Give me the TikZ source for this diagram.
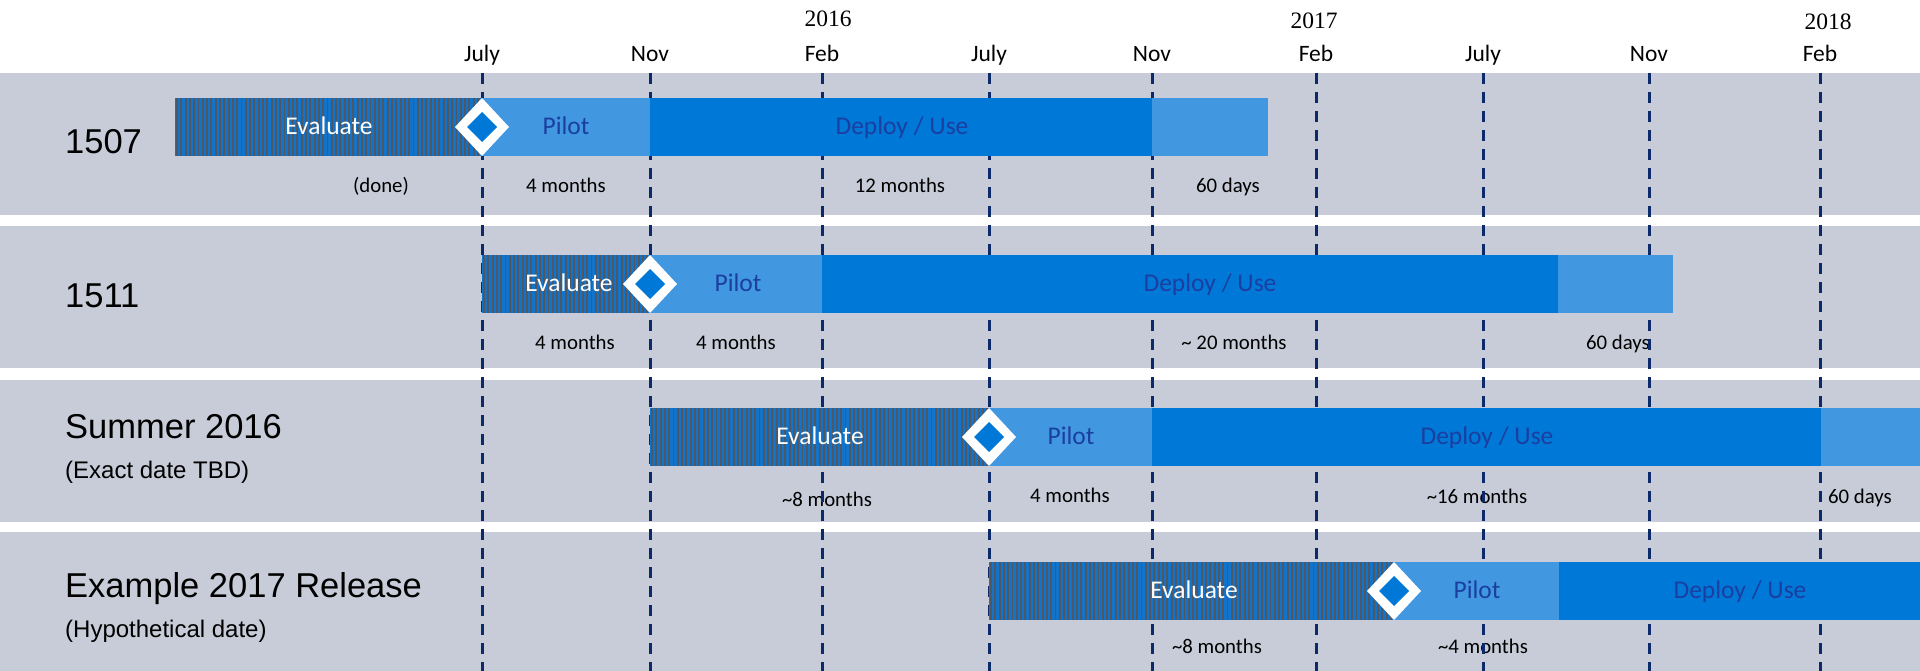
\documentclass[tikz,border=0pt]{standalone}
\usepackage{fontspec}
\setmainfont{Carlito}
\newfontfamily\arialf{Liberation Sans}
\newfontfamily\timesf{Liberation Serif}
\definecolor{band}{HTML}{C8CCD8}
\definecolor{deploy}{HTML}{0078D7}
\definecolor{pilot}{HTML}{4298E0}
\definecolor{evalblue}{HTML}{1173CA}
\definecolor{stripegray}{HTML}{4E5762}
\definecolor{dashnavy}{HTML}{0C2A6A}
\definecolor{labelblue}{HTML}{1A3FA0}
\newcommand\evalbar[4]{%
  \fill[evalblue] (#1,#3) rectangle (#2,#4);
  \begin{scope}
    \clip (#1,#3) rectangle (#2,#4);
    \pgfmathsetmacro\evfirst{#1+2}
    \pgfmathsetmacro\evnext{#1+6.3}
    \foreach \s in {\evfirst,\evnext,...,#2} \draw[stripegray, line width=1.9pt] (\s,#3) -- (\s,#4);
  \end{scope}}
\newcommand\msdiamond[2]{%
  \begin{scope}[shift={(#1,#2)}]
    \fill[white] (-27,0) -- (0,-29) -- (27,0) -- (0,29) -- cycle;
    \fill[deploy] (-15,0) -- (0,-15) -- (15,0) -- (0,15) -- cycle;
  \end{scope}}
\begin{document}
\begin{tikzpicture}[x=1pt,y=-1pt,
  every node/.style={inner sep=0pt, anchor=base},
  month/.style={font=\fontsize{23.5}{27}\selectfont},
  year/.style={font=\timesf\fontsize{23.5}{27}\selectfont},
  rowlabel/.style={font=\arialf\fontsize{34.5}{40}\selectfont, anchor=base west},
  rowsub/.style={font=\arialf\fontsize{24}{28}\selectfont, anchor=base west},
  barwhite/.style={font=\fontsize{25.5}{30}\selectfont, text=white},
  barblue/.style={font=\fontsize{25.5}{30}\selectfont, text=labelblue},
  dur/.style={font=\fontsize{20.8}{25}\selectfont},
  guide/.style={dashnavy, line width=3pt, dash pattern=on 11pt off 8pt},
]
\fill[white] (0,0) rectangle (1920,671);
\useasboundingbox (0,0) rectangle (1920,671);
% bands
\fill[band] (0,73) rectangle (1920,215);
\fill[band] (0,226) rectangle (1920,368);
\fill[band] (0,380) rectangle (1920,522);
\fill[band] (0,532) rectangle (1920,671);
% year labels
\node[year] (y16) at (828,27) {2016};
\node[year] (y17) at (1314,29) {2017};
\node[year] (y18) at (1828,30) {2018};
% month labels
\foreach \x/\m [count=\i] in {482/July,650/Nov,822/Feb,989/July,1152/Nov,1316/Feb,1483/July,1649/Nov,1820/Feb}
  \node[month] (mo\i) at (\x,62) {\m};
% row labels
\node[rowlabel] (r1) at (65,154) {1507};
\node[rowlabel] (r2) at (65,307) {1511};
\node[rowlabel] (r3) at (65,438) {Summer 2016};
\node[rowsub] (r3s) at (65,478) {(Exact date TBD)};
\node[rowlabel] (r4) at (65,597) {Example 2017 Release};
\node[rowsub] (r4s) at (65,637) {(Hypothetical date)};
% durations
\node[dur] (d11) at (381,193) {(done)};
\node[dur] (d12) at (566,193) {4 months};
\node[dur] (d13) at (900,193) {12 months};
\node[dur] (d14) at (1228,193) {60 days};
\node[dur] (d21) at (575,349) {4 months};
\node[dur] (d22) at (736,349) {4 months};
\node[dur] (d23) at (1234,349) {\textasciitilde{} 20 months};
\node[dur] (d24) at (1618,349) {60 days};
\node[dur] (d31) at (827,506) {\textasciitilde8 months};
\node[dur] (d32) at (1070,502) {4 months};
\node[dur] (d33) at (1477,503) {\textasciitilde16 months};
\node[dur] (d34) at (1860,503) {60 days};
\node[dur] (d41) at (1217,653) {\textasciitilde8 months};
\node[dur] (d42) at (1483,653) {\textasciitilde4 months};
% dashed guides
\foreach \x [count=\i] in {482,650,822,989,1152,1316,1483,1649,1820} {
  \coordinate (gt\i) at (\x,73);
  \coordinate (gb\i) at (\x,671);
  \draw[guide] (gt\i) -- (gb\i);
}
% row 1 bars
\evalbar{175}{482}{98}{156}
\fill[pilot] (482,98) rectangle (650,156);
\fill[deploy] (650,98) rectangle (1152,156);
\fill[pilot] (1152,98) rectangle (1268,156);
% row 2 bars
\evalbar{482}{650}{255}{313}
\fill[pilot] (650,255) rectangle (822,313);
\fill[deploy] (822,255) rectangle (1558,313);
\fill[pilot] (1558,255) rectangle (1673,313);
% row 3 bars
\evalbar{650}{989}{408}{466}
\fill[pilot] (989,408) rectangle (1152,466);
\fill[deploy] (1152,408) rectangle (1821,466);
\fill[pilot] (1821,408) rectangle (1920,466);
% row 4 bars
\evalbar{989}{1394}{562}{620}
\fill[pilot] (1394,562) rectangle (1559,620);
\fill[deploy] (1559,562) rectangle (1920,620);
% milestones
\msdiamond{482}{127}
\msdiamond{650}{284}
\msdiamond{989}{437}
\msdiamond{1394}{591}
% bar labels
\node[barwhite] (ev1) at (329,135) {Evaluate};
\node[barblue] (pi1) at (566,135) {Pilot};
\node[barblue] (de1) at (902,135) {Deploy / Use};
\node[barwhite] (ev2) at (569,291) {Evaluate};
\node[barblue] (pi2) at (738,291) {Pilot};
\node[barblue] (de2) at (1210,291) {Deploy / Use};
\node[barwhite] (ev3) at (820,444) {Evaluate};
\node[barblue] (pi3) at (1071,444) {Pilot};
\node[barblue] (de3) at (1487,444) {Deploy / Use};
\node[barwhite] (ev4) at (1194,598) {Evaluate};
\node[barblue] (pi4) at (1477,598) {Pilot};
\node[barblue] (de4) at (1740,598) {Deploy / Use};
\end{tikzpicture}
\end{document}
